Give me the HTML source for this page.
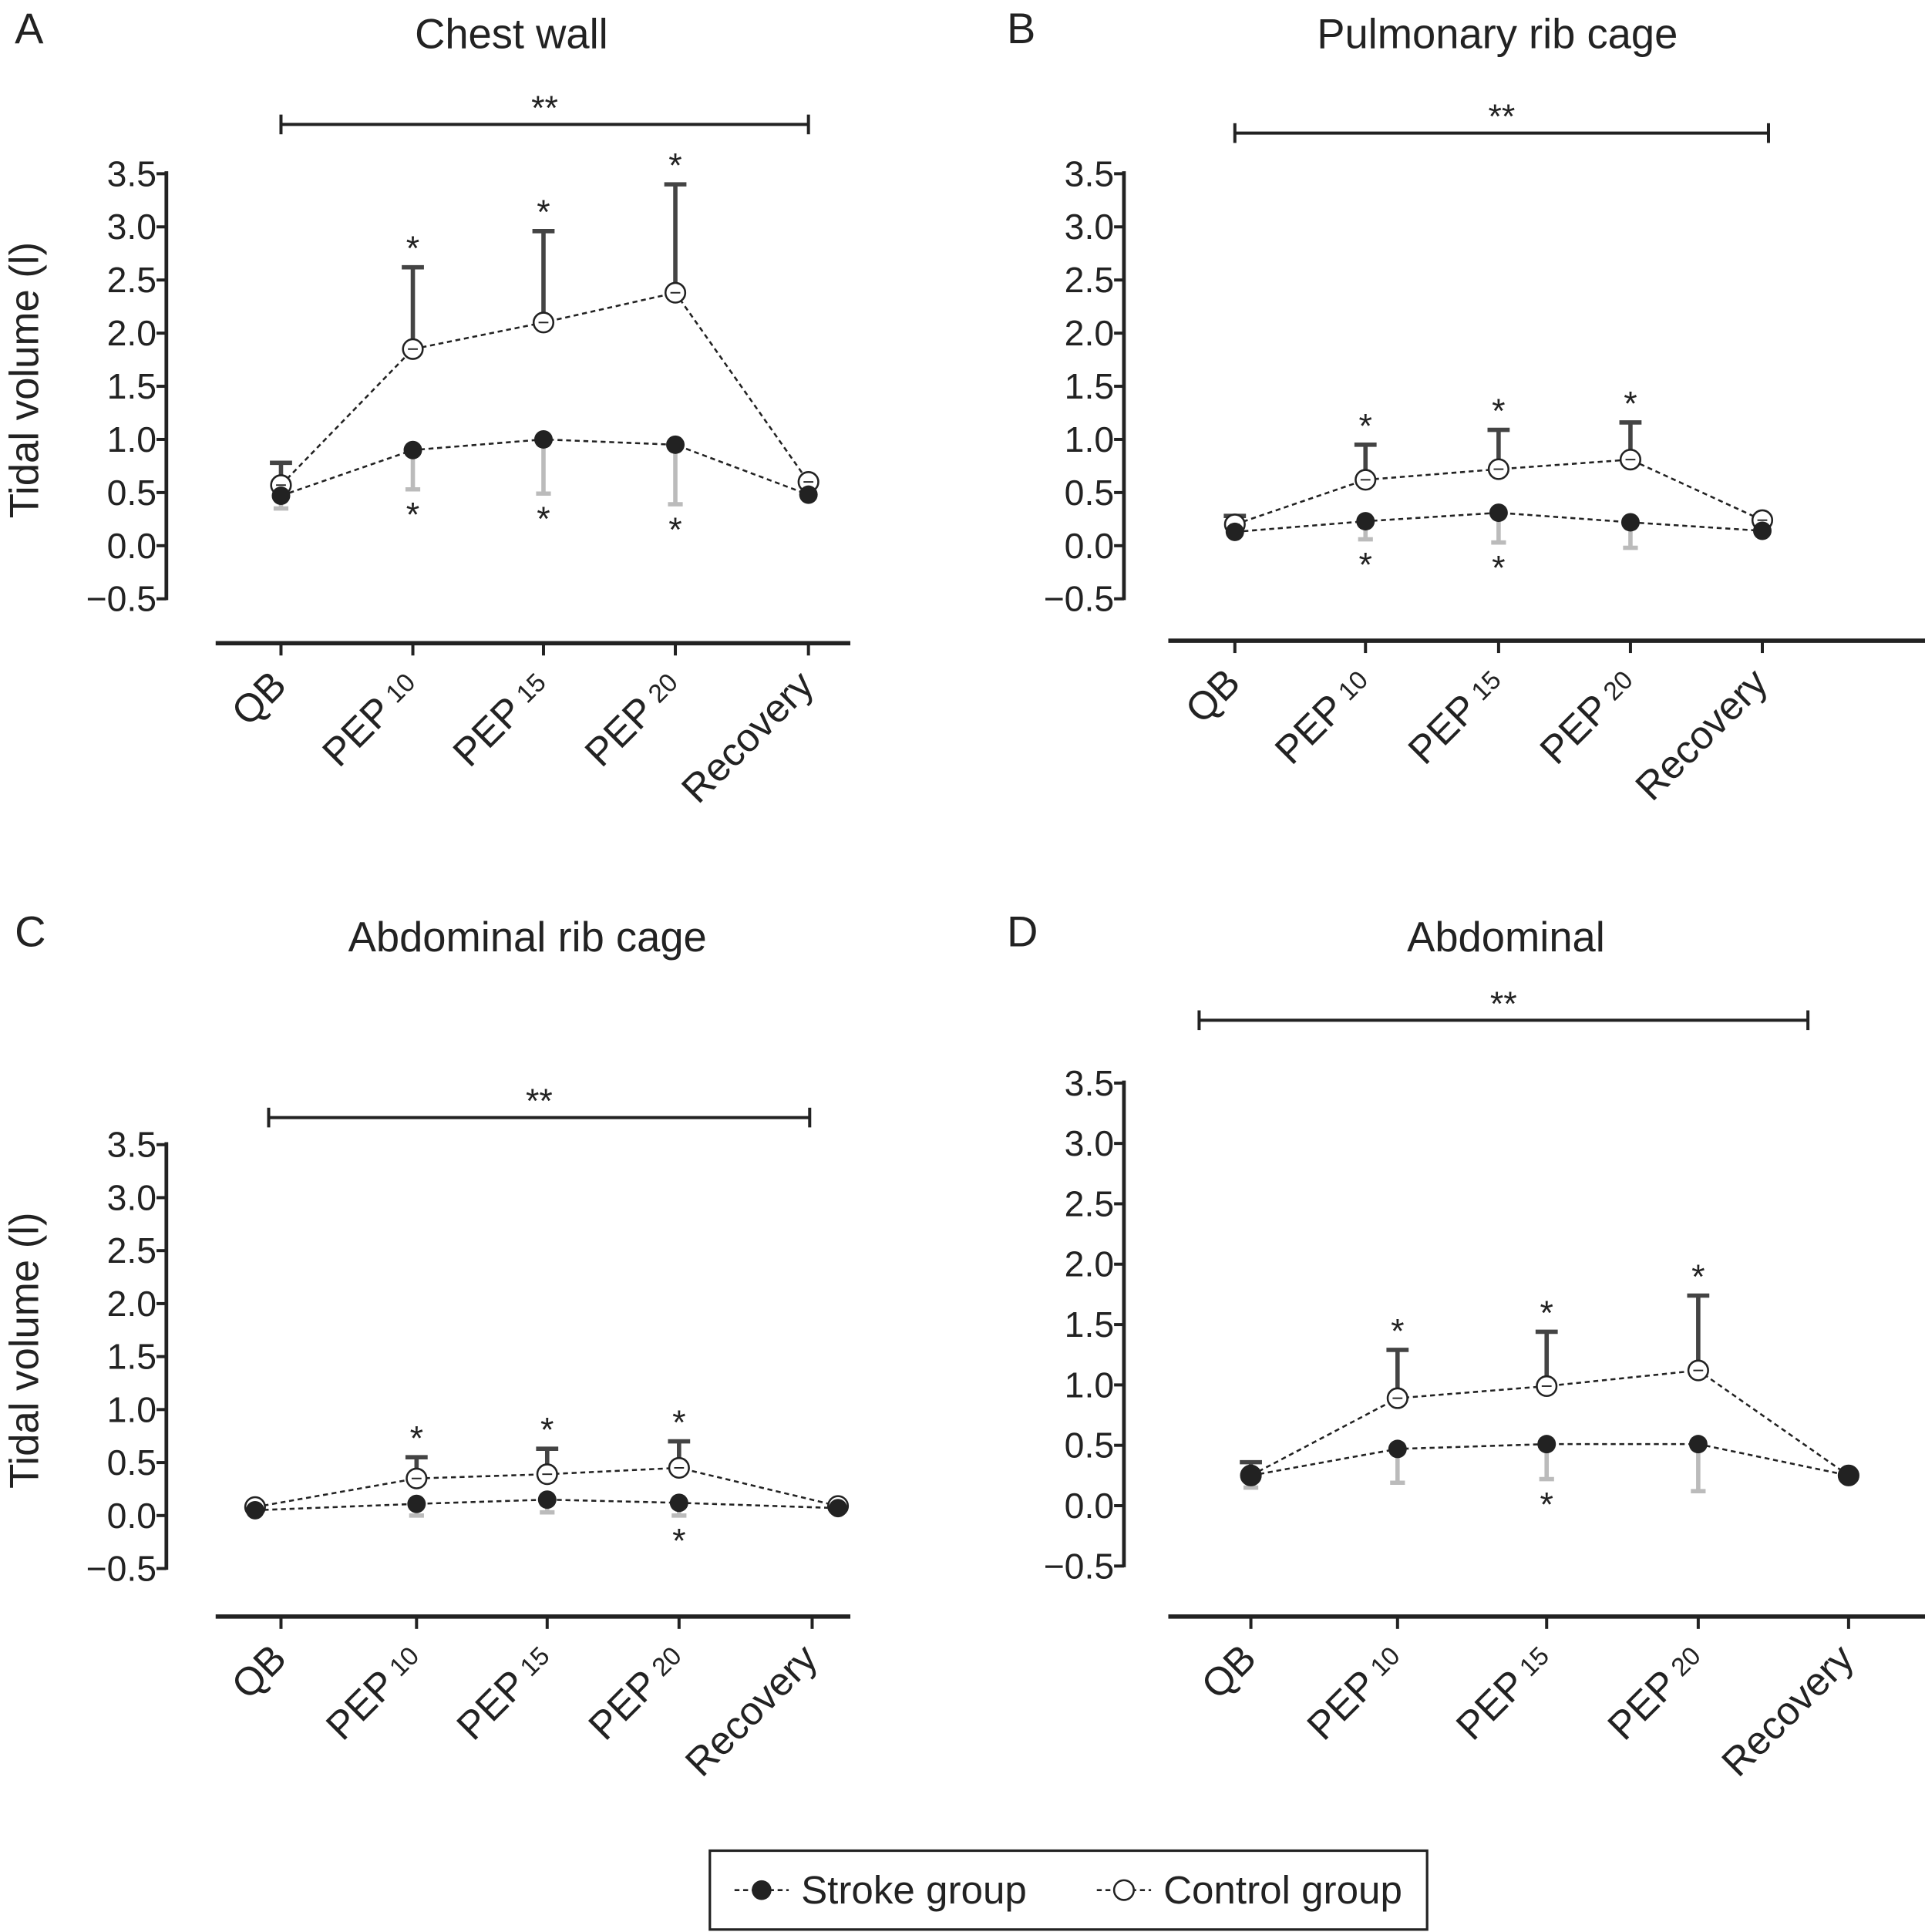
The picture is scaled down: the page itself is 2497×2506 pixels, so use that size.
<!DOCTYPE html>
<html><head><meta charset="utf-8"><style>
html,body{margin:0;padding:0;background:#fff;}
svg{display:block;font-family:"Liberation Sans",sans-serif;}
</style></head><body>
<svg id="chart" width="2497" height="2506" viewBox="0 0 1562 1568" preserveAspectRatio="none" xmlns="http://www.w3.org/2000/svg">
<rect width="1562" height="1568" fill="#fff"/>
<g>
<rect x="576" y="1502" width="582" height="64" fill="#fff" stroke="#222" stroke-width="2"/>
<line x1="596" y1="1534" x2="640" y2="1534" stroke="#222" stroke-width="1.6" stroke-dasharray="4,3"/>
<circle cx="618" cy="1534" r="8" fill="#222"/>
<text x="650" y="1545" font-size="32" fill="#222">Stroke group</text>
<line x1="890" y1="1534" x2="934" y2="1534" stroke="#222" stroke-width="1.6" stroke-dasharray="4,3"/>
<circle cx="912" cy="1534" r="8" fill="#fff" stroke="#222" stroke-width="1.6"/>
<text x="944" y="1545" font-size="32" fill="#222">Control group</text>
</g>
</svg>
<script>
const categories = ["QB","PEP","PEP","PEP","Recovery"];
const subs = ["","10","15","20",""];
const yTicks = [3.5,3.0,2.5,2.0,1.5,1.0,0.5,0.0,-0.5];
const ctrlA=[0.57,1.85,2.1,2.38,0.6], ctrlUpA=[0.78,2.62,2.96,3.4,null];
const strA=[0.47,0.9,1.0,0.95,0.48], strDnA=[0.35,0.53,0.49,0.39,null];
const ctrlB=[0.2,0.62,0.72,0.81,0.24], ctrlUpB=[0.28,0.95,1.09,1.16,null];
const strB=[0.13,0.23,0.31,0.22,0.14], strDnB=[0.1,0.06,0.03,-0.02,null];
const ctrlC=[0.08,0.35,0.39,0.45,0.09], ctrlUpC=[null,0.55,0.63,0.7,null];
const strC=[0.05,0.11,0.15,0.12,0.07], strDnC=[null,0.0,0.03,0.0,null];
const ctrlD=[0.25,0.89,0.99,1.12,0.25], ctrlUpD=[0.36,1.29,1.44,1.74,null];
const strD=[0.25,0.47,0.51,0.51,0.25], strDnD=[0.15,0.19,0.22,0.12,null];
const starUpA=[0,1,1,1,0], starDnA=[0,1,1,1,0];
const starUpB=[0,1,1,1,0], starDnB=[0,1,1,0,0];
const starUpC=[0,1,1,1,0], starDnC=[0,0,0,1,0];
const starUpD=[0,1,1,1,0], starDnD=[0,0,1,0,0];
const svg=document.getElementById('chart');
const NS='http://www.w3.org/2000/svg';
function mk(tag,attrs,parent,txt){const e=document.createElementNS(NS,tag);for(const k in attrs)e.setAttribute(k,attrs[k]);if(txt!==undefined)e.textContent=txt;(parent||svg).appendChild(e);return e;}
const panels=[
 {id:'a',letter:'A',title:'Chest wall',tx:415,ty:39,lx:12,ly:35,ax:135,yTop:141,yBot:486,xl:[175,690],xlY:522,cx:[228,335,441,548,656],tk:[228,335,441,548,656],br:[228,656,101],ctrl:ctrlA,cu:ctrlUpA,str:strA,sd:strDnA,su:starUpA,sdn:starDnA,ytitle:true},
 {id:'b',letter:'B',title:'Pulmonary rib cage',tx:1215,ty:39,lx:817,ly:35,ax:912,yTop:141,yBot:486,xl:[948,1562],xlY:520,cx:[1002,1108,1216,1323,1430],tk:[1002,1108,1216,1323,1430],br:[1002,1435,108],ctrl:ctrlB,cu:ctrlUpB,str:strB,sd:strDnB,su:starUpB,sdn:starDnB,ytitle:false},
 {id:'c',letter:'C',title:'Abdominal rib cage',tx:428,ty:772,lx:12,ly:768,ax:135,yTop:929,yBot:1273,xl:[175,690],xlY:1312,cx:[207,338,444,551,680],tk:[228,338,444,551,659],br:[218,657,907],ctrl:ctrlC,cu:ctrlUpC,str:strC,sd:strDnC,su:starUpC,sdn:starDnC,ytitle:true},
 {id:'d',letter:'D',title:'Abdominal',tx:1222,ty:772,lx:817,ly:768,ax:912,yTop:879,yBot:1271,xl:[948,1562],xlY:1312,cx:[1015,1134,1255,1378,1500],tk:[1015,1134,1255,1378,1500],br:[973,1467,828],ctrl:ctrlD,cu:ctrlUpD,str:strD,sd:strDnD,su:starUpD,sdn:starDnD,ytitle:false}
];
panels.forEach(p=>{
 const g=mk('g',{});
 
 
 const y=v=>p.yBot-(v+0.5)/4*(p.yBot-p.yTop);
 const c='#222';
 let t=mk('text',{x:p.lx,y:p.ly,'font-size':35,fill:c},g,p.letter);
  
 t=mk('text',{x:p.tx,y:p.ty,'font-size':34,fill:c,'text-anchor':'middle'},g,p.title);
  
 const b=mk('g',{},g);
  
 mk('line',{x1:p.br[0],x2:p.br[1],y1:p.br[2],y2:p.br[2],stroke:c,'stroke-width':2.5},b);
 mk('line',{x1:p.br[0],x2:p.br[0],y1:p.br[2]-8,y2:p.br[2]+8,stroke:c,'stroke-width':2.5},b);
 mk('line',{x1:p.br[1],x2:p.br[1],y1:p.br[2]-8,y2:p.br[2]+8,stroke:c,'stroke-width':2.5},b);
 mk('text',{x:(p.br[0]+p.br[1])/2,y:p.br[2]-4,'font-size':28,fill:c,'text-anchor':'middle'},b,'**');
 const ya=mk('g',{},g);
  
 mk('line',{x1:p.ax,x2:p.ax,y1:p.yTop-2,y2:p.yBot+1,stroke:c,'stroke-width':3},ya);
 yTicks.forEach(v=>{
  mk('line',{x1:p.ax-8,x2:p.ax,y1:y(v),y2:y(v),stroke:c,'stroke-width':2.5},ya);
  const lbl=(v<0?'\u22120.5':v.toFixed(1));
  mk('text',{x:p.ax-8,y:y(v)+10,'font-size':29,fill:c,'text-anchor':'end'},ya,lbl);
 });
 if(p.ytitle){
  const my=(p.yTop+p.yBot)/2-5;
  t=mk('text',{x:0,y:0,'font-size':33,fill:c,'text-anchor':'middle',transform:`translate(31,${my}) rotate(-90)`},g,'Tidal volume (l)');
   
 }
 const xa=mk('g',{},g);
  
 mk('line',{x1:p.xl[0],x2:p.xl[1],y1:p.xlY,y2:p.xlY,stroke:c,'stroke-width':3.5},xa);
 categories.forEach((cat,i)=>{
  const x=p.tk[i];
  mk('line',{x1:x,x2:x,y1:p.xlY,y2:p.xlY+10,stroke:c,'stroke-width':2.5},xa);
  const tt=mk('text',{x:0,y:0,'font-size':32,fill:c,'text-anchor':'end',transform:`translate(${x+6},${p.xlY+36}) rotate(-45)`},xa);
   
  const s1=document.createElementNS(NS,'tspan'); s1.textContent=cat; tt.appendChild(s1);
  if(subs[i]){const s2=document.createElementNS(NS,'tspan'); s2.setAttribute('font-size','21'); s2.setAttribute('dx','6'); s2.setAttribute('dy','-4'); s2.textContent=subs[i]; tt.appendChild(s2);}
 });
 p.cx.forEach((x,i)=>{
  if(p.sd[i]!==null){
   const e=mk('g',{},g);
    
   mk('line',{x1:x,x2:x,y1:y(p.str[i]),y2:y(p.sd[i]),stroke:'#bbb','stroke-width':3.5},e);
   mk('line',{x1:x-6,x2:x+6,y1:y(p.sd[i]),y2:y(p.sd[i]),stroke:'#bbb','stroke-width':3.5},e);
  }
  if(p.cu[i]!==null){
   const e=mk('g',{},g);
    
   mk('line',{x1:x,x2:x,y1:y(p.ctrl[i]),y2:y(p.cu[i]),stroke:'#444','stroke-width':3.5},e);
   mk('line',{x1:x-9,x2:x+9,y1:y(p.cu[i]),y2:y(p.cu[i]),stroke:'#444','stroke-width':3.5},e);
  }
 });
 const path=(arr)=>arr.map((v,i)=>(i?'L':'M')+p.cx[i]+','+y(v)).join(' ');
 let l=mk('path',{d:path(p.str),fill:'none',stroke:c,'stroke-width':1.6,'stroke-dasharray':'4,3'},g);
  
 l=mk('path',{d:path(p.ctrl),fill:'none',stroke:c,'stroke-width':1.6,'stroke-dasharray':'4,3'},g);
  
 p.cx.forEach((x,i)=>{
  let m=mk('circle',{cx:x,cy:y(p.ctrl[i]),r:8,fill:'#fff',stroke:c,'stroke-width':1.6},g);
   
  mk('line',{x1:x-4,x2:x+4,y1:y(p.ctrl[i]),y2:y(p.ctrl[i]),stroke:c,'stroke-width':1.2},g);
  m=mk('circle',{cx:x,cy:y(p.str[i]),r:7.5,fill:'#222'},g);
   
  if(p.su[i]){
   const top=p.cu[i]!==null?p.cu[i]:p.ctrl[i];
   const s=mk('text',{x:x,y:y(top)-6,'font-size':28,fill:c,'text-anchor':'middle'},g,'*');
    
  }
  if(p.sdn[i]){
   const bot=p.sd[i]!==null?p.sd[i]:p.str[i];
   const s=mk('text',{x:x,y:y(bot)+30,'font-size':28,fill:c,'text-anchor':'middle'},g,'*');
    
  }
 });
});
</script>
</body></html>
